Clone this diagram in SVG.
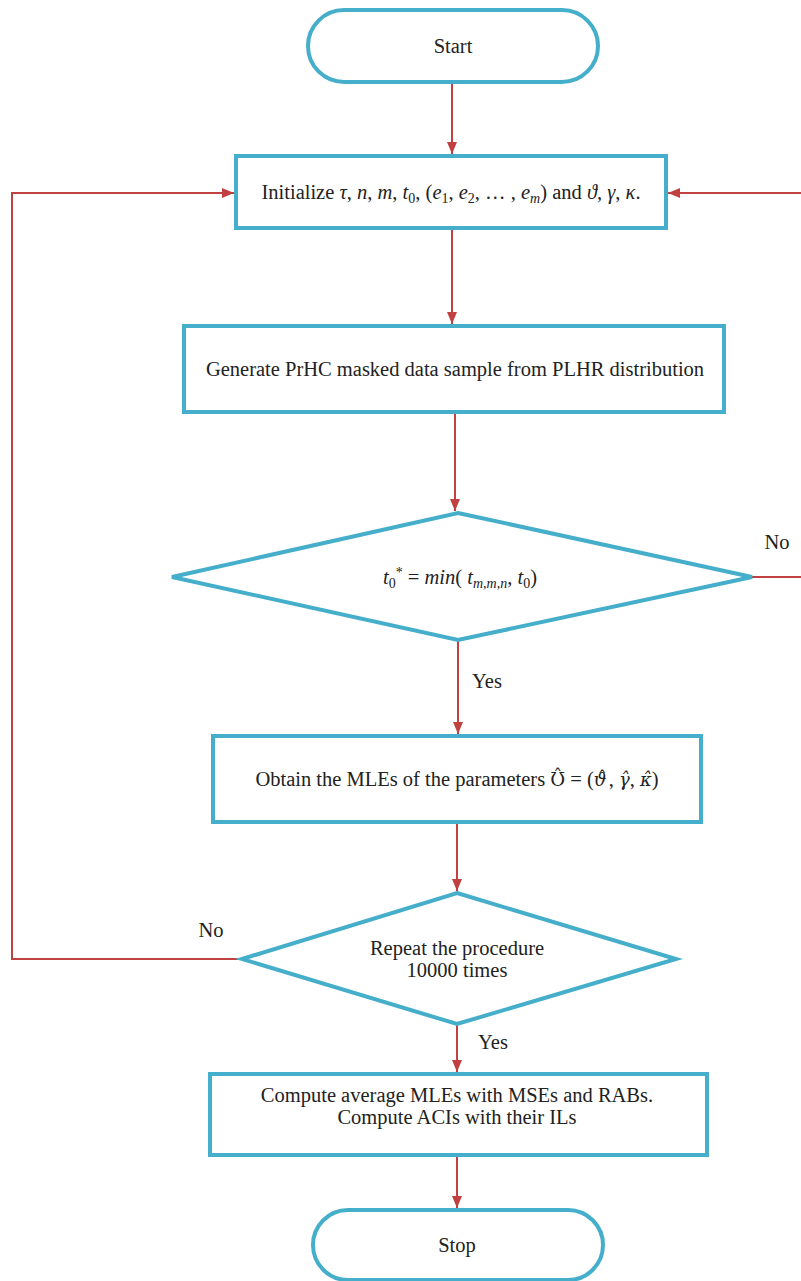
<svg xmlns="http://www.w3.org/2000/svg" width="801" height="1281" viewBox="0 0 801 1281">
<style>
.n{fill:#fff;stroke:#45AECA;stroke-width:4}
.c{fill:none;stroke:#C0413F;stroke-width:2}
.t{font-family:"Liberation Serif","Times New Roman",serif;font-size:20.5px;fill:#222;text-anchor:middle}
.m{font-family:"Liberation Serif",serif;font-style:italic}
.h{font-family:"DejaVu Serif",serif;font-size:18px}
.s{font-size:14px}
</style>
<defs>
<marker id="ah" viewBox="0 0 12 10" refX="12" refY="5" markerWidth="12" markerHeight="10" orient="auto" markerUnits="userSpaceOnUse">
<path d="M0,0L12,5L0,10z" fill="#C0413F"/>
</marker>
</defs>
<rect width="801" height="1281" fill="#fff"/>
<g id="connectors">
<path class="c" d="M452,82V154" marker-end="url(#ah)"/>
<path class="c" d="M452,228V324" marker-end="url(#ah)"/>
<path class="c" d="M455,412V511" marker-end="url(#ah)"/>
<path class="c" d="M458,640V734" marker-end="url(#ah)"/>
<path class="c" d="M457,822V891" marker-end="url(#ah)"/>
<path class="c" d="M457,1024V1072" marker-end="url(#ah)"/>
<path class="c" d="M457,1155V1208" marker-end="url(#ah)"/>
<path class="c" d="M752,577H803V193H668" marker-end="url(#ah)"/>
<path class="c" d="M242,959H12V193H234" marker-end="url(#ah)"/>
<text class="t" x="777" y="549">No</text>
<text class="t" x="487" y="688">Yes</text>
<text class="t" x="211" y="937">No</text>
<text class="t" x="493" y="1049">Yes</text>
</g>
<g id="start">
<rect class="n" x="308" y="10" width="290" height="72" rx="36"/>
<text class="t" x="453" y="53">Start</text>
</g>
<g id="init">
<rect class="n" x="236" y="156" width="430" height="72"/>
<text class="t" x="451" y="199">Initialize <tspan class="m">τ</tspan>, <tspan class="m">n</tspan>, <tspan class="m">m</tspan>, <tspan class="m">t</tspan><tspan class="s" dy="4">0</tspan><tspan dy="-4">, (</tspan><tspan class="m">e</tspan><tspan class="s" dy="4">1</tspan><tspan dy="-4">, </tspan><tspan class="m">e</tspan><tspan class="s" dy="4">2</tspan><tspan dy="-4">, … , </tspan><tspan class="m">e</tspan><tspan class="s m" dy="4">m</tspan><tspan dy="-4">) and </tspan><tspan class="m">ϑ</tspan>, <tspan class="m">γ</tspan>, <tspan class="m">κ</tspan>.</text>
</g>
<g id="generate">
<rect class="n" x="184" y="326" width="540" height="86"/>
<text class="t" x="455" y="376">Generate PrHC masked data sample from PLHR distribution</text>
</g>
<g id="check">
<polygon class="n" points="458,513 752,577 458,640 172,577"/>
<text class="t" x="460" y="584"><tspan class="m">t</tspan><tspan class="s" dy="4">0</tspan><tspan class="s" dy="-11">*</tspan><tspan dy="7"> = </tspan><tspan class="m">min</tspan>( <tspan class="m">t</tspan><tspan class="s m" dy="4">m,m,n</tspan><tspan dy="-4">, </tspan><tspan class="m">t</tspan><tspan class="s" dy="4">0</tspan><tspan dy="-4">)</tspan></text>
</g>
<g id="mle">
<rect class="n" x="213" y="736" width="488" height="86"/>
<text class="t" x="457" y="786">Obtain the MLEs of the parameters <tspan class="h">Ʊ̂</tspan> = (<tspan class="h" font-style="italic">ϑ</tspan><tspan class="h" dx="-9" dy="-1">ˆ</tspan><tspan dx="2" dy="1">, </tspan><tspan class="h" font-style="italic">γ̂</tspan>, <tspan class="h" font-style="italic">κ̂</tspan>)</text>
</g>
<g id="repeat">
<polygon class="n" points="457,893 676,959 457,1024 242,959"/>
<text class="t" x="457" y="955">Repeat the procedure</text>
<text class="t" x="457" y="977">10000 times</text>
</g>
<g id="compute">
<rect class="n" x="210" y="1074" width="497" height="81"/>
<text class="t" x="457" y="1102">Compute average MLEs with MSEs and RABs.</text>
<text class="t" x="457" y="1124">Compute ACIs with their ILs</text>
</g>
<g id="stop">
<rect class="n" x="313" y="1210" width="290" height="70" rx="35"/>
<text class="t" x="457" y="1252">Stop</text>
</g>
</svg>
